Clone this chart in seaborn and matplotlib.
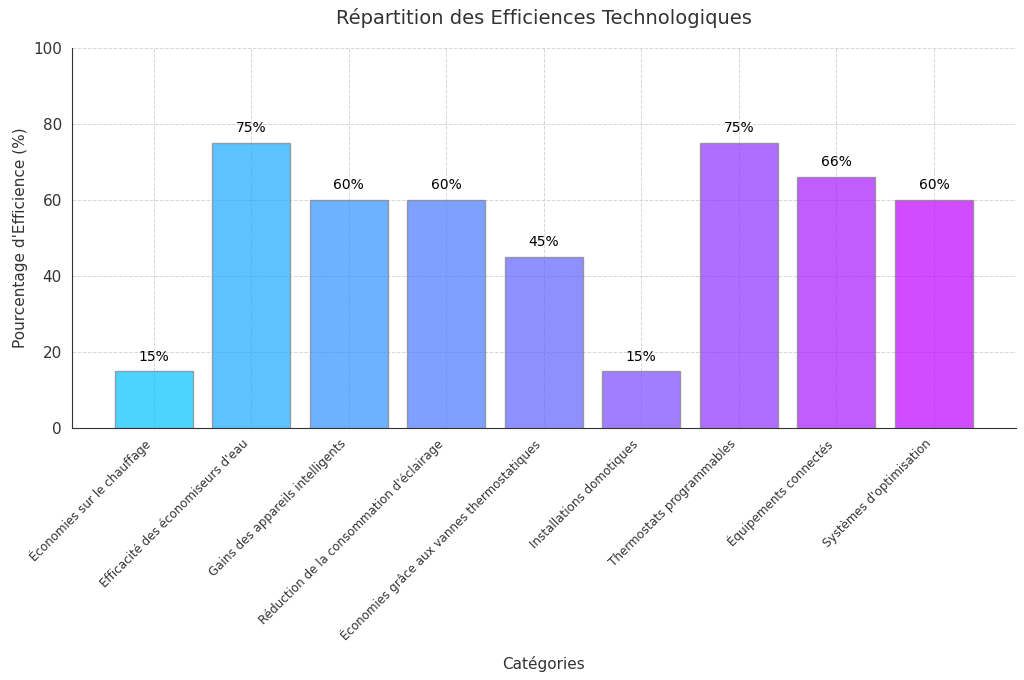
import numpy as np
import pandas as pd
import matplotlib
matplotlib.use('Agg')
import matplotlib.pyplot as plt
import seaborn as sns

categories = [
    "Économies sur le chauffage",
    "Efficacité des économiseurs d'eau",
    "Gains des appareils intelligents",
    "Réduction de la consommation d'éclairage",
    "Économies grâce aux vannes thermostatiques",
    "Installations domotiques",
    "Thermostats programmables",
    "Équipements connectés",
    "Systèmes d'optimisation",
]
values = [15, 75, 60, 60, 45, 15, 75, 66, 60]

# gradient from sky blue to violet
start = np.array([0.0, 0.76, 1.0])
end = np.array([0.75, 0.0, 1.0])
colors = [tuple(start + (end - start) * i / (len(categories) - 1)) for i in range(len(categories))]

df = pd.DataFrame({"cat": categories, "val": values})

sns.set_style("white")
plt.rcParams['font.family'] = ['DejaVu Sans']

fig, ax = plt.subplots(figsize=(10.24, 6.8), dpi=100)
sns.barplot(data=df, x="cat", y="val", hue="cat", palette=colors, legend=False,
            saturation=1, width=0.8, alpha=0.7, edgecolor="gray", linewidth=1,
            ax=ax, zorder=3)

for i, v in enumerate(values):
    ax.text(i, v + 2, f"{v}%", ha="center", va="bottom", fontsize=10, color="black")

ax.set_xlim(-0.84, len(categories) - 0.16)
ax.set_ylim(0, 100)
ax.set_title("Répartition des Efficiences Technologiques", fontsize=14, color="#333333", pad=17)
ax.set_xlabel("Catégories", fontsize=11, color="#333333", labelpad=9)
ax.set_ylabel("Pourcentage d'Efficience (%)", fontsize=11, color="#333333")
ax.set_xticks(range(len(categories)))
ax.set_xticklabels(categories, rotation=45, ha="right", fontsize=8.6, color="#333333")
ax.tick_params(axis="y", labelsize=11, colors="#333333")
ax.tick_params(axis="x", length=3)
ax.grid(True, linestyle="--", color="#cccccc", linewidth=0.7, alpha=0.8, zorder=0)
ax.set_axisbelow(True)
for s in ["top", "right"]:
    ax.spines[s].set_visible(False)
for s in ["left", "bottom"]:
    ax.spines[s].set_color("#333333")

plt.subplots_adjust(left=0.07, right=0.992, top=0.93, bottom=0.37)
plt.savefig("out.png", dpi=100)
plt.close()
